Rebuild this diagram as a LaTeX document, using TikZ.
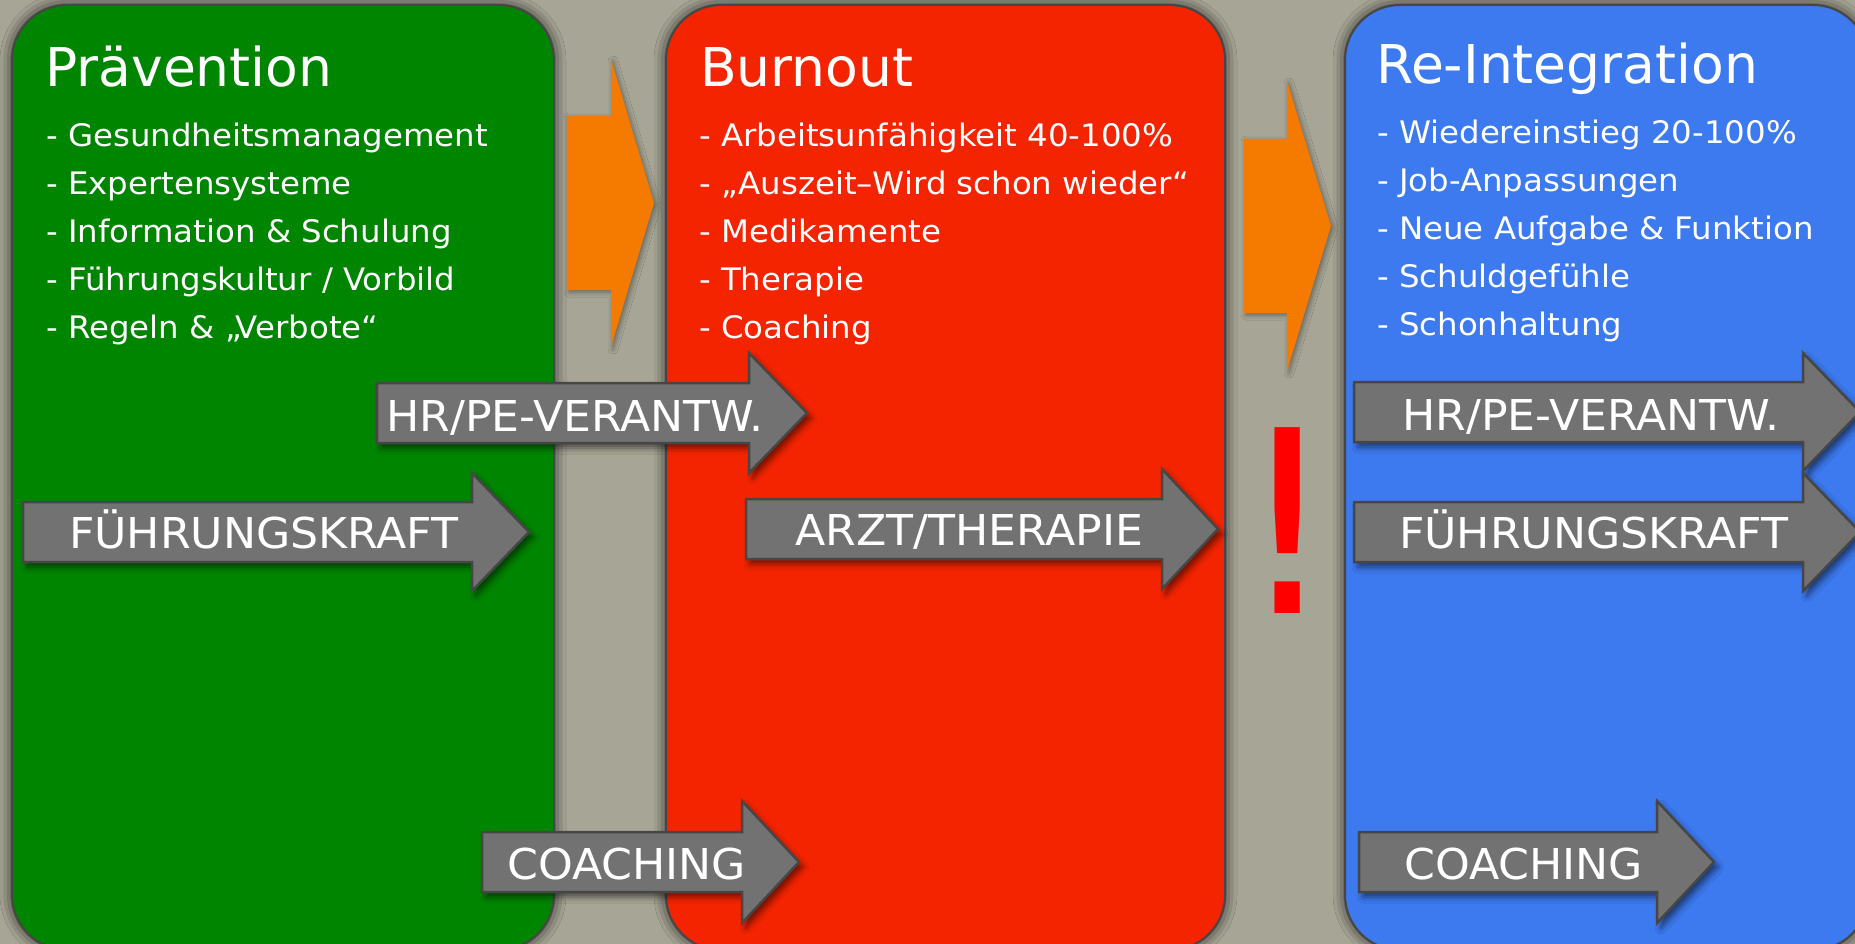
\documentclass[tikz,border=0pt]{standalone}
\usepackage{fontspec}
\setmainfont{DejaVu Sans}
\newfontfamily\punktschrift[FakeStretch=1.045]{DejaVu Sans}
\newfontfamily\pfeilschrift[FakeStretch=1.04]{DejaVu Sans}
\usetikzlibrary{shadows.blur}
\definecolor{hintergrund}{RGB}{167,165,149}
\definecolor{praegruen}{RGB}{0,133,0}
\definecolor{burnrot}{RGB}{245,36,0}
\definecolor{reblau}{RGB}{61,122,240}
\definecolor{pfeilorange}{RGB}{245,122,0}
\definecolor{pfeilgrau}{RGB}{114,114,114}
\definecolor{randgrau}{RGB}{70,70,70}
\def\blockarrow[#1](#2,#3)(#4,#5)(#6,#7){\draw[#1] (#2,#3-#6) -- (#4,#3-#6) -- (#4,#3-#7) -- (#5,#3) -- (#4,#3+#7) -- (#4,#3+#6) -- (#2,#3+#6) -- cycle;}

\tikzset{
  feld/.style={draw=randgrau, line width=2pt, rounded corners=55pt,
    blur shadow={shadow xshift=0pt, shadow yshift=0pt, shadow blur radius=12pt, shadow opacity=80}},
  orangepfeil/.style={fill=pfeilorange, draw=none,
    blur shadow={shadow xshift=2pt, shadow yshift=-2pt, shadow blur radius=5pt, shadow opacity=40}},
  graupfeil/.style={fill=pfeilgrau, draw=randgrau, line width=2.5pt, line join=miter,
    blur shadow={shadow xshift=4pt, shadow yshift=-5pt, shadow blur radius=6pt, shadow opacity=55}},
  titel/.style={text=white, font=\fontsize{53.5}{60}\selectfont, anchor=base west, inner sep=0pt},
  punkt/.style={text=white, font=\punktschrift\fontsize{31}{36}\selectfont, anchor=base west, inner sep=0pt},
  pfeiltext/.style={text=white, font=\pfeilschrift\fontsize{42.5}{48}\selectfont, anchor=base west, inner sep=0pt}
}

\begin{document}
\begin{tikzpicture}[x=1pt,y=-1pt]
	\useasboundingbox (0,0) rectangle (1855,944);
	\fill[hintergrund] (0,0) rectangle (1855,944);
	
	% die drei Phasen
	\draw[feld, fill=praegruen] (12,5) rectangle (554,950);
	\draw[feld, fill=burnrot] (666,5) rectangle (1225,950);
	\draw[feld, fill=reblau] (1345,5) rectangle (1868,950);
	
	% Uebergaenge
	\blockarrow[orangepfeil](567,203)(611,654)(87,144)
	\blockarrow[orangepfeil](1244,226)(1287,1331)(87,145)
	
	\node[titel] (praevention) at (45,87) {Prävention};
	\node[punkt] (prae1) at (46,147) {- Gesundheitsmanagement};
	\node[punkt] (prae2) at (46,194.8) {- Expertensysteme};
	\node[punkt] (prae3) at (46,242.6) {- Information \& Schulung};
	\node[punkt] (prae4) at (46,290.4) {- Führungskultur / Vorbild};
	\node[punkt] (prae5) at (46,338.2) {- Regeln \& „Verbote“};
	
	\node[titel] (burnout) at (700,87) {Burnout};
	\node[punkt] (burn1) at (699,147) {- Arbeitsunfähigkeit 40-100\%};
	\node[punkt] (burn2) at (699,194.8) {- „Auszeit–Wird schon wieder“};
	\node[punkt] (burn3) at (699,242.6) {- Medikamente};
	\node[punkt] (burn4) at (699,290.4) {- Therapie};
	\node[punkt] (burn5) at (699,338.2) {- Coaching};
	
	\node[titel] (reintegration) at (1376,84) {Re-Integration};
	\node[punkt] (re1) at (1377,144) {- Wiedereinstieg 20-100\%};
	\node[punkt] (re2) at (1377,191.8) {- Job-Anpassungen};
	\node[punkt] (re3) at (1377,239.6) {- Neue Aufgabe \& Funktion};
	\node[punkt] (re4) at (1377,287.4) {- Schuldgefühle};
	\node[punkt] (re5) at (1377,335.2) {- Schonhaltung};
	
	% Akteure
	\blockarrow[graupfeil](377,413)(749,807)(30,60)
	\node[pfeiltext] (hrlinks) at (386,431) {HR/PE-VERANTW.};
	
	\blockarrow[graupfeil](23,532)(472,529)(30,59)
	\node[pfeiltext] (fklinks) at (69,548) {FÜHRUNGSKRAFT};
	
	\blockarrow[graupfeil](746,529)(1162,1218)(30,60)
	\node[pfeiltext] (arzt) at (795,545) {ARZT/THERAPIE};
	
	\blockarrow[graupfeil](1354,412)(1803,1860)(30,59)
	\node[pfeiltext] (hrrechts) at (1402,430) {HR/PE-VERANTW.};
	
	\blockarrow[graupfeil](1354,532)(1803,1860)(30,59)
	\node[pfeiltext] (fkrechts) at (1399,548) {FÜHRUNGSKRAFT};
	
	\blockarrow[graupfeil](482,862)(742,799)(30,61)
	\node[pfeiltext] (coachlinks) at (507,879) {COACHING};
	
	\blockarrow[graupfeil](1359,862)(1657,1714)(30,61)
	\node[pfeiltext] (coachrechts) at (1404,879) {COACHING};
	
	\node[text=red, font=\fontsize{255}{260}\selectfont, anchor=base, inner sep=0pt] (achtung) at (1288,613) {!};
\end{tikzpicture}
\end{document}
